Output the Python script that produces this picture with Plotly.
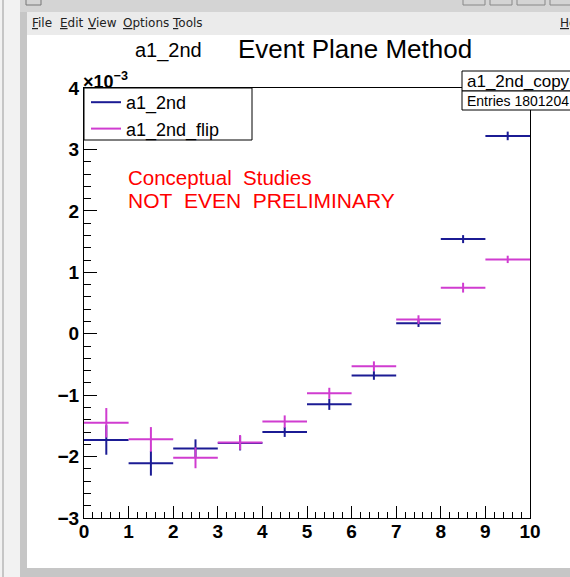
import plotly.graph_objects as go

# ---- data (values in units of 1e-3) ----
bin_centers = [0.5, 1.5, 2.5, 3.5, 4.5, 5.5, 6.5, 7.5, 8.5, 9.5]
bin_half_width = [0.5] * 10
a1_2nd = [-1.73, -2.11, -1.87, -1.78, -1.60, -1.15, -0.68, 0.17, 1.54, 3.22]
a1_2nd_err = [0.24, 0.20, 0.15, 0.12, 0.08, 0.09, 0.07, 0.06, 0.065, 0.07]
a1_2nd_flip = [-1.45, -1.72, -2.02, -1.77, -1.43, -0.97, -0.53, 0.23, 0.75, 1.21]
a1_2nd_flip_err = [0.24, 0.20, 0.17, 0.12, 0.10, 0.09, 0.08, 0.07, 0.08, 0.06]
x_ticks = list(range(0, 11))
y_ticks = list(range(-3, 5))

BLUE = "#1b1b94"
MAG = "#d03cd0"
FONT = "Liberation Sans"

W, H = 570, 577
L, R, T, B = 84, 40, 88, 59
PW, PH = W - L - R, H - T - B


def PX(x):
    return (x - L) / PW


def PY(y):
    return (H - B - y) / PH


fig = go.Figure()

fig.add_trace(go.Scatter(
    x=bin_centers, y=a1_2nd, mode="markers", marker=dict(size=1, color="rgba(0,0,0,0)"),
    error_x=dict(type="data", array=bin_half_width, width=0, thickness=2, color=BLUE),
    error_y=dict(type="data", array=a1_2nd_err, width=0, thickness=2, color=BLUE),
    showlegend=False, name="a1_2nd"))
fig.add_trace(go.Scatter(
    x=bin_centers, y=a1_2nd_flip, mode="markers", marker=dict(size=1, color="rgba(0,0,0,0)"),
    error_x=dict(type="data", array=bin_half_width, width=0, thickness=2, color=MAG),
    error_y=dict(type="data", array=a1_2nd_flip_err, width=0, thickness=2, color=MAG),
    showlegend=False, name="a1_2nd_flip"))
# legend entries
fig.add_trace(go.Scatter(x=[None], y=[None], mode="lines", line=dict(color=BLUE, width=2), name="a1_2nd"))
fig.add_trace(go.Scatter(x=[None], y=[None], mode="lines", line=dict(color=MAG, width=2), name="a1_2nd_flip"))

shapes = []
# window chrome
shapes.append(dict(type="rect", xref="paper", yref="paper", x0=PX(0), x1=PX(570), y0=PY(0), y1=PY(12),
                   fillcolor="#d4d4d4", line=dict(width=0), layer="below"))
shapes.append(dict(type="rect", xref="paper", yref="paper", x0=PX(0), x1=PX(20), y0=PY(0), y1=PY(577),
                   fillcolor="#f2f2f2", line=dict(width=0), layer="below"))
shapes.append(dict(type="line", xref="paper", yref="paper", x0=PX(3), x1=PX(3), y0=PY(0), y1=PY(577),
                   line=dict(color="#9a9a9a", width=1), layer="below"))
shapes.append(dict(type="rect", xref="paper", yref="paper", x0=PX(20), x1=PX(27), y0=PY(12), y1=PY(577),
                   fillcolor="#c6c6c6", line=dict(width=0), layer="below"))
shapes.append(dict(type="rect", xref="paper", yref="paper", x0=PX(27), x1=PX(570), y0=PY(12), y1=PY(35),
                   fillcolor="#ebebeb", line=dict(width=0), layer="below"))
shapes.append(dict(type="rect", xref="paper", yref="paper", x0=PX(20), x1=PX(570), y0=PY(568), y1=PY(577),
                   fillcolor="#c6c6c6", line=dict(width=0), layer="below"))
shapes.append(dict(type="rect", xref="paper", yref="paper", x0=PX(26), x1=PX(41), y0=PY(-2), y1=PY(5),
                   fillcolor="rgba(0,0,0,0)", line=dict(color="#777", width=1), layer="below"))
for a, b in [(463, 485), (490, 512), (517, 545), (550, 572)]:
    shapes.append(dict(type="rect", xref="paper", yref="paper", x0=PX(a), x1=PX(b), y0=PY(-2), y1=PY(5),
                       fillcolor="rgba(0,0,0,0)", line=dict(color="#888", width=1), layer="below"))
# legend box
shapes.append(dict(type="rect", xref="paper", yref="paper", x0=PX(84), x1=PX(252), y0=PY(88), y1=PY(140),
                   fillcolor="white", line=dict(color="black", width=1), layer="above"))
# stats box
shapes.append(dict(type="rect", xref="paper", yref="paper", x0=PX(462), x1=PX(580), y0=PY(71), y1=PY(91),
                   fillcolor="white", line=dict(color="black", width=1), layer="above"))
shapes.append(dict(type="rect", xref="paper", yref="paper", x0=PX(462), x1=PX(580), y0=PY(91), y1=PY(110),
                   fillcolor="white", line=dict(color="black", width=1), layer="above"))

annotations = []
menu = [("F", "ile", 30), ("E", "dit", 58), ("V", "iew", 86), ("O", "ptions", 121), ("T", "ools", 170), ("H", "e", 558)]
for first, rest, x in menu:
    annotations.append(dict(xref="paper", yref="paper", x=PX(x), y=PY(23), xanchor="left", yanchor="middle",
                            text=f"<u>{first}</u>{rest}", showarrow=False,
                            font=dict(family="DejaVu Sans", size=12, color="#222")))
annotations.append(dict(xref="paper", yref="paper", x=PX(168), y=PY(51), xanchor="center", yanchor="middle",
                        text="a1_2nd", showarrow=False, font=dict(family=FONT, size=20, color="black")))
annotations.append(dict(xref="paper", yref="paper", x=PX(355), y=PY(49), xanchor="center", yanchor="middle",
                        text="Event Plane Method", showarrow=False, font=dict(family=FONT, size=26, color="black")))
annotations.append(dict(xref="paper", yref="paper", x=PX(81), y=PY(80), xanchor="left", yanchor="middle",
                        text="<b>×10<sup>−3</sup></b>", showarrow=False, font=dict(family=FONT, size=18, color="black")))
annotations.append(dict(xref="paper", yref="paper", x=PX(465), y=PY(81), xanchor="left", yanchor="middle",
                        text="a1_2nd_copy", showarrow=False, font=dict(family=FONT, size=17, color="black")))
annotations.append(dict(xref="paper", yref="paper", x=PX(465), y=PY(100.5), xanchor="left", yanchor="middle",
                        text="Entries 1801204", showarrow=False, font=dict(family=FONT, size=14, color="black")))
annotations.append(dict(xref="paper", yref="paper", x=PX(126), y=PY(177), xanchor="left", yanchor="middle",
                        text="Conceptual\u00a0\u00a0Studies", showarrow=False, font=dict(family=FONT, size=20.5, color="#ff0000")))
annotations.append(dict(xref="paper", yref="paper", x=PX(126), y=PY(200), xanchor="left", yanchor="middle",
                        text="NOT\u00a0\u00a0EVEN\u00a0\u00a0PRELIMINARY", showarrow=False, font=dict(family=FONT, size=21, color="#ff0000")))

fig.update_layout(
    width=W, height=H,
    margin=dict(l=L, r=R, t=T, b=B, pad=0),
    paper_bgcolor="white", plot_bgcolor="white",
    shapes=shapes, annotations=annotations,
    showlegend=True,
    legend=dict(x=PX(86), y=PY(84), xanchor="left", yanchor="top", bgcolor="rgba(0,0,0,0)",
                borderwidth=0, font=dict(family=FONT, size=18, color="black"), itemwidth=30,
                tracegroupgap=0),
    xaxis=dict(range=[0, 10], tickmode="linear", tick0=0, dtick=1,
               ticks="inside", ticklen=12, tickwidth=1, tickcolor="black",
               minor=dict(tickmode="linear", tick0=0, dtick=0.2, ticks="inside", ticklen=6,
                          tickcolor="black", tickwidth=1),
               showline=True, linecolor="black", linewidth=1, mirror=True,
               showgrid=False, zeroline=False, ticklabelstandoff=-4,
               tickfont=dict(family=FONT, size=19, color="black", weight="bold")),
    yaxis=dict(range=[-3, 4], tickmode="linear", tick0=0, dtick=1,
               ticks="inside", ticklen=13, tickwidth=1, tickcolor="black",
               minor=dict(tickmode="linear", tick0=0, dtick=0.2, ticks="inside", ticklen=7,
                          tickcolor="black", tickwidth=1),
               showline=True, linecolor="black", linewidth=1, mirror=True,
               showgrid=False, zeroline=False,
               tickfont=dict(family=FONT, size=19, color="black", weight="bold")),
)

fig.write_html("out.html")
